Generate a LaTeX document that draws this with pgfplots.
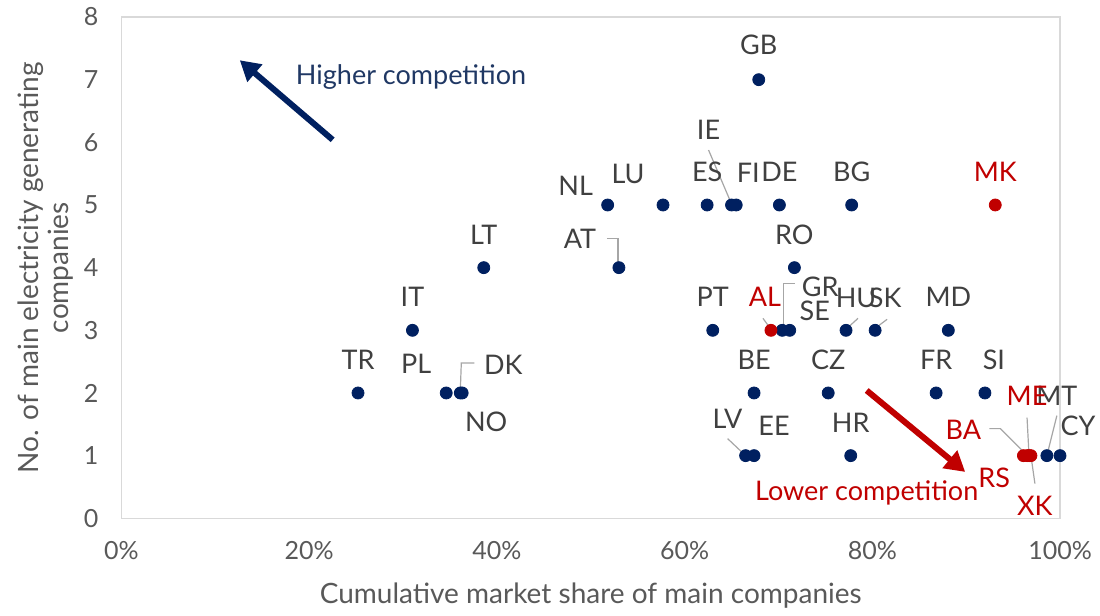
\documentclass[border=0pt]{standalone}
\usepackage{pgfplots}
\pgfplotsset{compat=1.18}
\usepackage{pgfplotstable}
\usepackage{fontspec}
\setmainfont{Lato}
\usetikzlibrary{arrows.meta}

\definecolor{navy}{HTML}{002060}
\definecolor{navytxt}{HTML}{203864}
\definecolor{darkred}{HTML}{C00000}
\definecolor{lblgray}{HTML}{404040}
\definecolor{tickgray}{HTML}{595959}
\definecolor{boxgray}{HTML}{D9D9D9}
\definecolor{leadgray}{HTML}{A6A6A6}

% x = cumulative share (%), y = no. of companies, dx/dy = label offset (pt)
\pgfplotstableread{
x     y  lbl  dx     dy
25.2  2  TR   0      16.5
31.0  3  IT   0      16.5
34.6  2  PL   -15    14.5
36.1  2  DK   21.5   14
36.3  2  NO   12     -14.5
38.6  4  LT   0      16.5
51.8  5  NL   -16    9.5
53.0  4  AT   -19.5  14.5
57.7  5  LU   -17.5  15.5
62.4  5  ES   0      16.5
65.0  5  IE   -11.5  37.5
65.5  5  FI   6      16
70.1  5  DE   0      16.5
77.8  5  BG   0      16.5
67.9  7  GB   0      17.5
71.7  4  RO   0      16.5
63.0  3  PT   0      16.5
70.4  3  GR   19     21.5
71.2  3  SE   12.5   9.5
77.2  3  HU   5      16
80.3  3  SK   5      16
88.1  3  MD   0      16.5
67.4  2  BE   0      16.5
75.3  2  CZ   0      16.5
86.8  2  FR   0      16.5
92.0  2  SI   4.5    16.5
66.5  1  LV   -9     18.5
67.4  1  EE   10     15
77.7  1  HR   0      16.5
98.6  1  MT   5      30
100.0 1  CY   9      15
}\bluedata

\pgfplotstableread{
x     y  lbl  dx     dy
69.2  3  AL   -3     16.5
93.1  5  MK   0      16.5
96.1  1  BA   -30    13
96.5  1  RS   -16.5  -11
96.7  1  ME   -1     30
96.9  1  XK   2      -25
}\reddata

\begin{document}
\begin{tikzpicture}[leader/.style={leadgray, line width=0.6pt}]
\begin{axis}[
    scale only axis,
    width=469.25pt, height=250.65pt,
    xmin=0, xmax=100, ymin=0, ymax=8,
    clip=false,
    axis line style={boxgray, line width=0.6pt},
    major tick length=0pt,
    xtick={0,20,40,60,80,100},
    xticklabels={0\%,20\%,40\%,60\%,80\%,100\%},
    ytick={0,1,...,8},
    /pgf/number format/assume math mode=true,
    tick label style={font=\fontsize{12.5}{14}\selectfont, text=tickgray},
    xticklabel style={yshift=-8pt},
    yticklabel style={xshift=-8pt},
    xlabel={Cumulative market share of main companies},
    xlabel style={at={(axis description cs:0.5,0)}, anchor=center, yshift=-38.5pt,
        font=\fontsize{14}{16}\selectfont, text=tickgray},
    ylabel={No. of main electricity generating\\companies},
    ylabel style={at={(axis description cs:0,0.5)}, anchor=center, yshift=38pt,
        align=center, font=\fontsize{14}{15}\selectfont, text=tickgray},
]
\coordinate (bbsw) at (rel axis cs:0,0);
\coordinate (bbne) at (rel axis cs:1,1);

% leader lines
\draw[leader] ([shift={(-11.5pt,27.5pt)}]axis cs:65.0,5) -- ([shift={(0pt,0.5pt)}]axis cs:65.0,5);
\draw[leader] ([shift={(-6pt,14.5pt)}]axis cs:53.0,4) -- ([shift={(-0.5pt,14.5pt)}]axis cs:53.0,4) -- ([shift={(-0.5pt,1.5pt)}]axis cs:53.0,4);
\draw[leader] ([shift={(0pt,1pt)}]axis cs:36.1,2) -- ([shift={(0.5pt,15pt)}]axis cs:36.1,2) -- ([shift={(7pt,15pt)}]axis cs:36.1,2);
\draw[leader] ([shift={(0.5pt,1pt)}]axis cs:70.4,3) -- ([shift={(0.5pt,23.5pt)}]axis cs:70.4,3) -- ([shift={(6.5pt,23.5pt)}]axis cs:70.4,3);
\draw[leader] ([shift={(0.5pt,1pt)}]axis cs:77.2,3) -- ([shift={(6pt,6pt)}]axis cs:77.2,3);
\draw[leader] ([shift={(0pt,1pt)}]axis cs:80.3,3) -- ([shift={(6pt,5.5pt)}]axis cs:80.3,3);
\draw[leader] ([shift={(-4pt,6pt)}]axis cs:69.2,3) -- ([shift={(0pt,0.5pt)}]axis cs:69.2,3);
\draw[leader] ([shift={(-9pt,8.5pt)}]axis cs:66.5,1) -- (axis cs:66.5,1);
\draw[leader] ([shift={(-17pt,13.5pt)}]axis cs:96.1,1) -- ([shift={(-11.5pt,13.5pt)}]axis cs:96.1,1) -- ([shift={(1.5pt,0.5pt)}]axis cs:96.1,1);
\draw[leader] ([shift={(-1pt,19pt)}]axis cs:96.7,1) -- (axis cs:96.7,1);
\draw[leader] ([shift={(2pt,-14pt)}]axis cs:96.9,1) -- (axis cs:96.9,1);
\draw[leader] ([shift={(5pt,20pt)}]axis cs:98.6,1) -- (axis cs:98.6,1);

\addplot[only marks, mark=*, mark size=3pt, color=navy,
    nodes near coords, point meta=explicit symbolic,
    visualization depends on={\thisrow{dx}\as\dx},
    visualization depends on={\thisrow{dy}\as\dy},
    nodes near coords style={anchor=center, xshift=\dx pt, yshift=\dy pt,
        font=\fontsize{13.5}{15}\selectfont, text=lblgray}]
    table[x=x, y=y, meta=lbl] {\bluedata};

\addplot[only marks, mark=*, mark size=3pt, color=darkred,
    nodes near coords, point meta=explicit symbolic,
    visualization depends on={\thisrow{dx}\as\dx},
    visualization depends on={\thisrow{dy}\as\dy},
    nodes near coords style={anchor=center, xshift=\dx pt, yshift=\dy pt,
        font=\fontsize{13.5}{15}\selectfont, text=darkred}]
    table[x=x, y=y, meta=lbl] {\reddata};

% competition arrows
\draw[navy, line width=3pt, -{Triangle[length=10pt,width=11pt]}] (axis cs:22.5,6.04) -- (axis cs:12.6,7.31);
\node[anchor=base, text=navytxt, font=\fontsize{13.5}{15}\selectfont] at (axis cs:30.85,6.915) {Higher competition};
\draw[darkred, line width=3pt, -{Triangle[length=10pt,width=11pt]}] (axis cs:79.4,2.04) -- (axis cs:89.9,0.74);
\node[anchor=base, text=darkred, font=\fontsize{13.5}{15}\selectfont] at (axis cs:79.4,0.29) {Lower competition};
\end{axis}
\pgfresetboundingbox
\path[use as bounding box] ([shift={(-60.75pt,-48.35pt)}]bbsw) rectangle ([shift={(20pt,8.5pt)}]bbne);
\end{tikzpicture}
\end{document}
